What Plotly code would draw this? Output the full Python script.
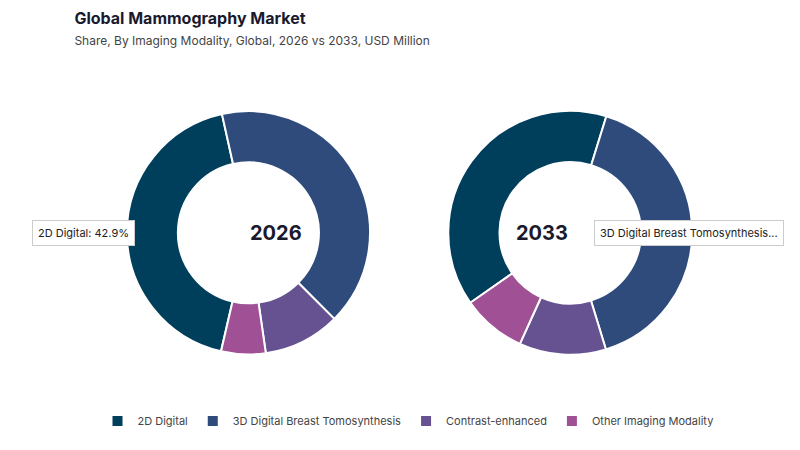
import plotly.graph_objects as go

labels = ["2D Digital", "3D Digital Breast Tomosynthesis", "Contrast-enhanced", "Other Imaging Modality"]
share_2026 = [42.9, 41.0, 10.2, 5.9]
share_2033 = [39.5, 40.5, 11.5, 8.5]
colors = ["#003f5c", "#2f4b7c", "#665191", "#a05195"]

fig = go.Figure()
common = dict(labels=labels, marker=dict(colors=colors, line=dict(color="white", width=2)),
              hole=0.58, sort=False, direction="clockwise", textinfo="none", hoverinfo="label+percent")
fig.add_trace(go.Pie(values=share_2026, rotation=193, domain=dict(x=[0.13, 0.45], y=[0.23, 0.91]), **common))
fig.add_trace(go.Pie(values=share_2033, rotation=235, domain=dict(x=[0.553, 0.874], y=[0.23, 0.91]),
                     showlegend=False, **common))

fig.update_layout(
    width=800, height=450, paper_bgcolor="white", plot_bgcolor="white",
    font=dict(family="Inter, sans-serif", color="#333"),
    margin=dict(l=20, r=20, t=70, b=20),
    title=dict(text="<b>Global Mammography Market</b><br><span style='font-size:12px;color:#444'>Share, By Imaging Modality, Global, 2026 vs 2033, USD Million</span>",
               x=0.083, xanchor="left", y=0.965, yanchor="top", font=dict(size=16, color="#1a1a2e")),
    legend=dict(orientation="h", x=0.5, xanchor="center", y=0.047, yanchor="middle",
                font=dict(size=11, color="#444"), traceorder="normal"),
    annotations=[
        dict(text="<b>2026</b>", x=0.289, y=0.569, xref="paper", yref="paper", showarrow=False,
             font=dict(size=20, color="#1a1a2e")),
        dict(text="<b>2033</b>", x=0.713, y=0.569, xref="paper", yref="paper", showarrow=False,
             font=dict(size=20, color="#1a1a2e")),
        dict(text="2D Digital: 42.9%", x=0.005, y=0.569, xref="paper", yref="paper", xanchor="left",
             showarrow=False, bgcolor="white", bordercolor="#ccc", borderwidth=1, borderpad=5,
             font=dict(size=11, color="#222")),
        dict(text="3D Digital Breast Tomosynthesis...", x=0.995, y=0.569, xref="paper", yref="paper",
             xanchor="right", showarrow=False, bgcolor="white", bordercolor="#ccc", borderwidth=1,
             borderpad=5, font=dict(size=11, color="#222")),
    ],
)
fig.write_html("out.html")
